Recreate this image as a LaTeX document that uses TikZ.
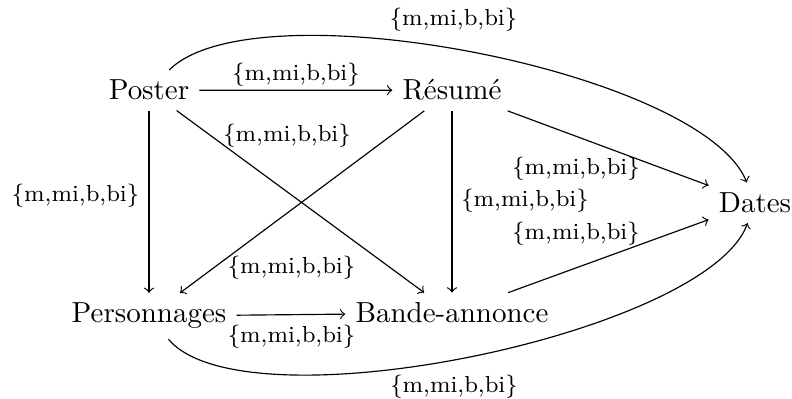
\documentclass[tikz,border=0pt]{standalone}
\begin{document}
\begin{tikzpicture}[x=0.34483pt, y=0.34483pt,
  nd/.style={anchor=base, font=\normalsize},
  lbl/.style={font=\footnotesize},
  arr/.style={->}]
\useasboundingbox (0,0) rectangle (792,-399);
\node[nd] (pos) at (149,-100) {Poster};
\node[nd] (res) at (452,-100) {R\'esum\'e};
\node[nd] (per) at (149,-323) {Personnages};
\node[nd] (ban) at (452,-323) {Bande-annonce};
\node[nd] (dat) at (755,-212.5) {Dates};

\draw[arr] (pos) -- (res);
\draw[arr] (pos) -- (per);
\draw[arr] (pos) -- (ban);
\draw[arr] (res) -- (per);
\draw[arr] (res) -- (ban);
\draw[arr] (res) -- (dat);
\draw[arr] (per) -- (ban);
\draw[arr] (ban) -- (dat);
\draw[arr] (pos) to[out=45,in=112,looseness=0.525] (dat);
\draw[arr] (per) to[out=-50,in=-110,looseness=0.51] (dat);

\node[lbl] (l1) at (453.5,-20) {\{m,mi,b,bi\}};
\node[lbl] (l2) at (296,-75) {\{m,mi,b,bi\}};
\node[lbl] (l3) at (287,-136) {\{m,mi,b,bi\}};
\node[lbl] (l4) at (75.5,-196) {\{m,mi,b,bi\}};
\node[lbl] (l5) at (525,-201) {\{m,mi,b,bi\}};
\node[lbl] (l6) at (576,-169) {\{m,mi,b,bi\}};
\node[lbl] (l7) at (576,-234) {\{m,mi,b,bi\}};
\node[lbl] (l8) at (291.5,-268) {\{m,mi,b,bi\}};
\node[lbl] (l9) at (291.5,-337) {\{m,mi,b,bi\}};
\node[lbl] (l10) at (454,-387) {\{m,mi,b,bi\}};
\end{tikzpicture}
\end{document}
